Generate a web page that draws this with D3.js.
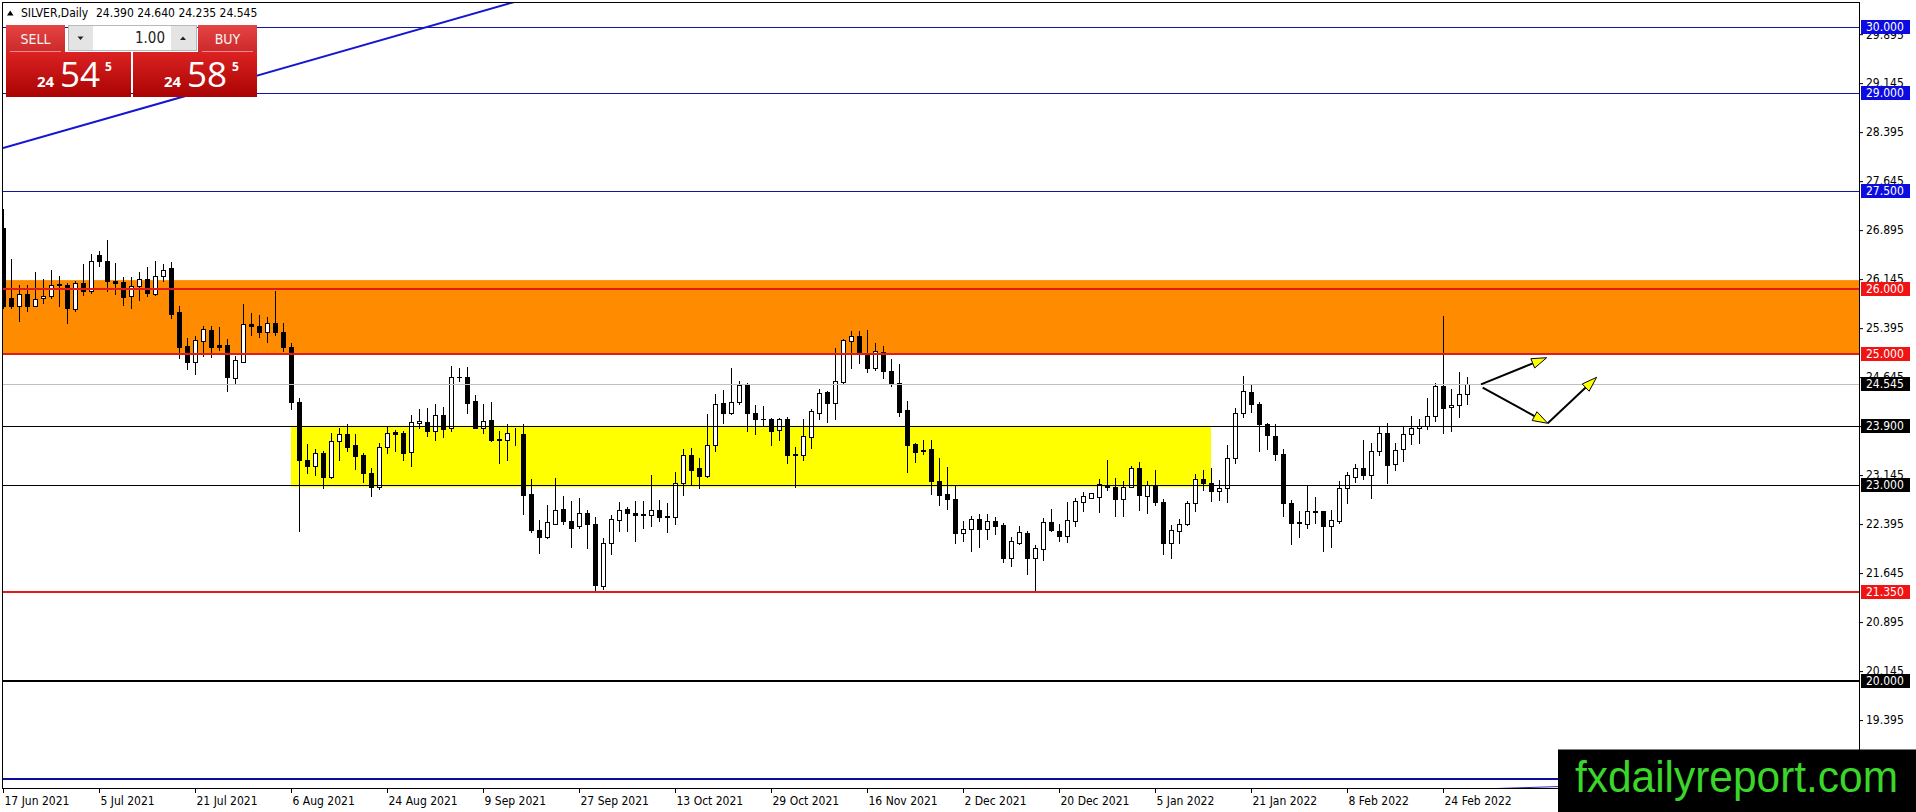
<!DOCTYPE html>
<html lang="en">
<head>
<meta charset="UTF-8">
<title>SILVER, Daily</title>
<script src="https://cdnjs.cloudflare.com/ajax/libs/d3/7.8.5/d3.min.js"></script>
<style>
  html, body { margin: 0; padding: 0; background: #fff; overflow: hidden; }
  svg { display: block; }
  .mt { font-family: "DejaVu Sans Condensed", "DejaVu Sans", sans-serif; font-stretch: condensed; }
</style>
</head>
<body>
<svg id="chart" width="1916" height="812"></svg>
<script>
// ---- values ----
const symbol = "SILVER,Daily";
const lastQuote = [24.390, 24.640, 24.235, 24.545]; // O H L C shown in the header
const bidPrice = 24.545;
const askPrice = 24.585;
const lotSize = "1.00";

// daily bars 17 Jun 2021 .. 1 Mar 2022, [open, high, low, close]
const ohlc = [
  [26.93, 27.22, 25.70, 25.73], [25.86, 26.46, 25.70, 25.74], [25.74, 26.06, 25.50, 25.91],
  [25.91, 26.06, 25.65, 25.74], [25.74, 26.26, 25.74, 25.84], [25.86, 26.14, 25.78, 25.89],
  [25.88, 26.28, 25.86, 26.06], [26.05, 26.20, 25.74, 26.07], [26.06, 26.09, 25.48, 25.71],
  [25.69, 26.11, 25.65, 26.09], [26.09, 26.37, 25.90, 25.97], [25.96, 26.53, 25.93, 26.43],
  [26.51, 26.58, 26.34, 26.43], [26.43, 26.75, 25.96, 26.11], [26.12, 26.39, 25.92, 26.08],
  [26.10, 26.18, 25.75, 25.87], [25.88, 26.18, 25.71, 26.04], [26.04, 26.26, 25.82, 26.14],
  [26.15, 26.33, 25.88, 25.94], [25.92, 26.43, 25.90, 26.20], [26.20, 26.37, 26.11, 26.29],
  [26.31, 26.41, 25.55, 25.61], [25.64, 25.73, 24.94, 25.11], [25.12, 25.24, 24.77, 24.88],
  [24.88, 25.27, 24.70, 25.21], [25.20, 25.43, 24.97, 25.38], [25.37, 25.43, 24.96, 25.11],
  [25.14, 25.41, 25.06, 25.10], [25.13, 25.23, 24.44, 24.64], [24.63, 24.97, 24.56, 24.91],
  [24.88, 25.76, 24.88, 25.46], [25.46, 25.62, 25.29, 25.43], [25.43, 25.60, 25.26, 25.34],
  [25.34, 25.57, 25.19, 25.47], [25.47, 25.97, 25.29, 25.33], [25.34, 25.48, 25.04, 25.10],
  [25.10, 25.16, 24.15, 24.27], [24.26, 24.32, 22.29, 23.38], [23.38, 23.62, 23.17, 23.28],
  [23.28, 23.55, 23.14, 23.49], [23.49, 23.51, 22.95, 23.11], [23.11, 23.79, 23.10, 23.67],
  [23.67, 23.86, 23.38, 23.78], [23.78, 23.92, 23.51, 23.57], [23.60, 23.78, 23.24, 23.44],
  [23.45, 23.49, 23.04, 23.17], [23.18, 23.25, 22.82, 22.96], [22.96, 23.64, 22.93, 23.58],
  [23.58, 23.90, 23.48, 23.79], [23.80, 23.84, 23.52, 23.78], [23.79, 23.82, 23.38, 23.48],
  [23.50, 24.07, 23.29, 23.96], [23.94, 24.16, 23.86, 23.98], [23.96, 24.17, 23.74, 23.82],
  [23.82, 24.23, 23.69, 24.07], [24.07, 24.19, 23.73, 23.85], [23.86, 24.82, 23.82, 24.65],
  [24.65, 24.78, 24.59, 24.64], [24.64, 24.80, 24.10, 24.25], [24.28, 24.37, 23.86, 23.87],
  [23.87, 24.24, 23.79, 23.97], [23.99, 24.27, 23.67, 23.68], [23.70, 23.82, 23.33, 23.69],
  [23.69, 23.92, 23.38, 23.79], [23.80, 23.87, 23.60, 23.81], [23.78, 23.92, 22.55, 22.84],
  [22.86, 23.09, 22.27, 22.31], [22.30, 22.46, 21.96, 22.19], [22.19, 22.68, 22.18, 22.42],
  [22.40, 23.10, 22.40, 22.61], [22.62, 22.83, 22.40, 22.44], [22.45, 22.75, 22.05, 22.34],
  [22.36, 22.80, 22.34, 22.56], [22.56, 22.61, 22.03, 22.39], [22.39, 22.50, 21.37, 21.46],
  [21.45, 22.18, 21.40, 22.10], [22.10, 22.54, 21.93, 22.47], [22.46, 22.73, 22.29, 22.61],
  [22.63, 22.65, 22.29, 22.56], [22.57, 22.75, 22.14, 22.54], [22.55, 22.75, 22.33, 22.53],
  [22.53, 23.14, 22.36, 22.61], [22.61, 22.76, 22.44, 22.51], [22.52, 22.72, 22.28, 22.50],
  [22.50, 23.20, 22.40, 23.02], [23.02, 23.55, 22.84, 23.46], [23.46, 23.56, 22.99, 23.22],
  [23.25, 23.41, 22.95, 23.13], [23.13, 24.08, 23.11, 23.61], [23.61, 24.38, 23.51, 24.23],
  [24.25, 24.45, 23.94, 24.10], [24.10, 24.78, 24.08, 24.26], [24.27, 24.58, 24.24, 24.52],
  [24.52, 24.55, 23.82, 24.10], [24.10, 24.22, 23.77, 24.00], [24.01, 24.20, 23.89, 24.00],
  [24.01, 24.02, 23.60, 23.82], [23.84, 24.02, 23.68, 24.00], [24.00, 24.03, 23.33, 23.46],
  [23.46, 23.58, 22.96, 23.47], [23.45, 24.00, 23.37, 23.74], [23.73, 24.15, 23.56, 24.12],
  [24.10, 24.47, 24.00, 24.40], [24.41, 24.44, 23.96, 24.25], [24.25, 25.09, 24.00, 24.59],
  [24.57, 25.23, 24.55, 25.22], [25.20, 25.35, 24.79, 25.28], [25.28, 25.35, 24.86, 25.02],
  [24.99, 25.37, 24.73, 24.78], [24.78, 25.17, 24.75, 25.04], [25.03, 25.12, 24.63, 24.74],
  [24.74, 24.93, 24.51, 24.56], [24.56, 24.85, 24.05, 24.11], [24.14, 24.28, 23.20, 23.60],
  [23.62, 23.64, 23.34, 23.50], [23.53, 23.69, 23.47, 23.52], [23.54, 23.68, 22.86, 23.05],
  [23.06, 23.40, 22.68, 22.84], [22.85, 23.27, 22.62, 22.78], [22.78, 22.99, 22.11, 22.26],
  [22.26, 22.45, 22.14, 22.32], [22.32, 22.52, 21.98, 22.48], [22.47, 22.55, 22.05, 22.32],
  [22.32, 22.55, 22.16, 22.44], [22.44, 22.51, 22.24, 22.36], [22.38, 22.41, 21.81, 21.88],
  [21.88, 22.19, 21.76, 22.13], [22.10, 22.37, 22.09, 22.27], [22.26, 22.29, 21.63, 21.87],
  [21.87, 22.08, 21.35, 22.03], [22.01, 22.49, 21.84, 22.42], [22.42, 22.63, 22.29, 22.30],
  [22.29, 22.40, 22.13, 22.21], [22.21, 22.74, 22.12, 22.46], [22.44, 22.79, 22.37, 22.75],
  [22.74, 22.89, 22.59, 22.82], [22.80, 22.87, 22.80, 22.87], [22.81, 23.08, 22.58, 23.01],
  [22.99, 23.38, 22.91, 22.96], [22.96, 23.10, 22.52, 22.78], [22.78, 23.06, 22.52, 22.97],
  [22.97, 23.29, 22.96, 23.26], [23.26, 23.35, 22.61, 22.84], [22.83, 23.06, 22.57, 22.99],
  [22.99, 23.22, 22.69, 22.73], [22.73, 22.78, 21.93, 22.11], [22.11, 22.38, 21.87, 22.30],
  [22.29, 22.47, 22.11, 22.40], [22.40, 22.75, 22.38, 22.72], [22.72, 23.16, 22.59, 23.09],
  [23.09, 23.23, 22.92, 23.02], [23.02, 23.26, 22.75, 22.90], [22.90, 23.07, 22.77, 22.95],
  [22.95, 23.60, 22.74, 23.41], [23.41, 24.17, 23.33, 24.09], [24.09, 24.66, 24.03, 24.43],
  [24.41, 24.54, 24.11, 24.24], [24.24, 24.27, 23.51, 23.93], [23.93, 23.94, 23.55, 23.76],
  [23.75, 23.93, 23.38, 23.47], [23.47, 23.55, 22.52, 22.72], [22.72, 22.77, 22.09, 22.41],
  [22.42, 22.60, 22.19, 22.41], [22.40, 23.00, 22.34, 22.59], [22.59, 22.81, 22.41, 22.58],
  [22.60, 22.60, 21.99, 22.36], [22.36, 22.61, 22.05, 22.46], [22.45, 23.06, 22.41, 22.95],
  [22.95, 23.20, 22.72, 23.14], [23.11, 23.32, 23.04, 23.26], [23.26, 23.68, 23.08, 23.15],
  [23.14, 23.64, 22.80, 23.51], [23.51, 23.88, 23.46, 23.79], [23.79, 23.95, 23.02, 23.30],
  [23.32, 23.63, 23.22, 23.53], [23.55, 23.88, 23.36, 23.78], [23.78, 24.05, 23.62, 23.87],
  [23.86, 24.01, 23.64, 23.89], [23.89, 24.33, 23.85, 24.05], [24.05, 24.56, 23.97, 24.51],
  [24.51, 25.58, 23.79, 24.17], [24.18, 24.46, 23.82, 24.22], [24.22, 24.73, 24.04, 24.39],
  [24.39, 24.64, 24.235, 24.545]
];

const dateLabels = [
  "17 Jun 2021", "5 Jul 2021", "21 Jul 2021", "6 Aug 2021", "24 Aug 2021", "9 Sep 2021",
  "27 Sep 2021", "13 Oct 2021", "29 Oct 2021", "16 Nov 2021", "2 Dec 2021", "20 Dec 2021",
  "5 Jan 2022", "21 Jan 2022", "8 Feb 2022", "24 Feb 2022"
];
const dateStep = 12; // bars between date labels

// price scale ticks that show (the lowest one sits under the watermark)
const priceTicks = [29.895, 29.145, 28.395, 27.645, 26.895, 26.145, 25.395, 24.645,
  23.895, 23.145, 22.395, 21.645, 20.895, 20.145, 19.395];

// horizontal lines drawn on the chart; the 18.5 one has its label hidden
const levelPrices = [30, 29, 27.5, 26, 25, bidPrice, 23.9, 23, 21.35, 20, 18.5];
const labelledLevels = [30, 29, 27.5, 26, 25, bidPrice, 23.9, 23, 21.35, 20];

const supplyZone = [25.0, 26.13];        // orange box, full width
const demandZone = [22.965, 23.90];      // yellow box
const demandZoneBars = [36, 151];

// [bar, price] end points
const trendLines = [
  [[0, 28.15], [64, 30.39]],
  [[186.6, 18.347], [194.4, 18.377]]
];
const arrows = [
  [[184.75, 24.535], [192.96, 24.942]],
  [[184.96, 24.483], [193.09, 23.938]],
  [[193.09, 23.938], [199.2, 24.642]]
];

// ---- layout ----
const W = 1916, H = 812;
const plot = { left: 3, top: 3, right: 1859, bottom: 788 };
const barSpacing = 8;

const x = d3.scaleLinear()
  .domain([0, (plot.right - plot.left) / barSpacing])
  .range([plot.left, plot.right]);
const y = d3.scaleLinear().domain([18.34, 30.372]).range([789, 3]);

const svg = d3.select("#chart").attr("viewBox", [0, 0, W, H]);
svg.append("rect").attr("width", W).attr("height", H).attr("fill", "#fff");

const defs = svg.append("defs");
defs.append("clipPath").attr("id", "plotClip")
  .append("rect")
  .attr("x", plot.left).attr("y", plot.top)
  .attr("width", plot.right - plot.left).attr("height", plot.bottom - plot.top);

function gradient(id, top, bottom) {
  const g = defs.append("linearGradient").attr("id", id)
    .attr("x1", 0).attr("y1", 0).attr("x2", 0).attr("y2", 1);
  g.append("stop").attr("offset", "0%").attr("stop-color", top);
  g.append("stop").attr("offset", "100%").attr("stop-color", bottom);
}
gradient("btnGrad", "#e54444", "#cc2a2a");
gradient("boxGrad", "#dc2222", "#a90303");

const chart = svg.append("g").attr("clip-path", "url(#plotClip)");

// zones
chart.append("rect")
  .attr("x", plot.left).attr("width", plot.right - plot.left)
  .attr("y", y(supplyZone[1])).attr("height", y(supplyZone[0]) - y(supplyZone[1]))
  .attr("fill", "#ff8c00");
chart.append("rect")
  .attr("x", x(demandZoneBars[0])).attr("width", x(demandZoneBars[1]) - x(demandZoneBars[0]))
  .attr("y", y(demandZone[1])).attr("height", y(demandZone[0]) - y(demandZone[1]))
  .attr("fill", "#ffff00");

// candles
const candles = ohlc.map((d, i) => ({ i, o: d[0], h: d[1], l: d[2], c: d[3] }));
const cg = chart.append("g").attr("shape-rendering", "crispEdges");

cg.selectAll("line.wick").data(candles).join("line")
  .attr("class", "wick")
  .attr("x1", d => x(d.i) + 0.5).attr("x2", d => x(d.i) + 0.5)
  .attr("y1", d => Math.round(y(d.h))).attr("y2", d => Math.round(y(d.l)) + 1)
  .attr("stroke", "#000").attr("stroke-width", 1);

cg.selectAll("rect.bear").data(candles.filter(d => d.c < d.o)).join("rect")
  .attr("class", "bear")
  .attr("x", d => x(d.i) - 2).attr("width", 5)
  .attr("y", d => Math.round(y(d.o)))
  .attr("height", d => Math.max(1, Math.round(y(d.c)) - Math.round(y(d.o)) + 1))
  .attr("fill", "#000");

cg.selectAll("rect.bull").data(candles.filter(d => d.c >= d.o)).join("rect")
  .attr("class", "bull")
  .attr("x", d => x(d.i) - 1.5).attr("width", 4)
  .attr("y", d => Math.round(y(d.c)) + 0.5)
  .attr("height", d => Math.max(0, Math.round(y(d.o)) - Math.round(y(d.c))))
  .attr("fill", "#fff").attr("stroke", "#000").attr("stroke-width", 1);

// horizontal levels
function levelStyle(p) {
  if (p === bidPrice) return { stroke: "#c0c0c0", width: 1, box: "#000" };
  if (p === 26 || p === 25 || p === 21.35) return { stroke: "#e01b1b", width: 2, box: "#f01414" };
  if (p === 18.5) return { stroke: "#0c0c96", width: 2, box: "#0c0ce0" };
  if (p >= 27.5) return { stroke: "#14149e", width: 1, box: "#0c0ce0" };
  if (p === 20) return { stroke: "#000", width: 2, box: "#000" };
  return { stroke: "#000", width: 1, box: "#000" };
}
const lineY = p => {
  const s = levelStyle(p);
  return s.width % 2 ? Math.round(y(p)) + 0.5 : Math.round(y(p));
};

chart.append("g").attr("shape-rendering", "crispEdges")
  .selectAll("line").data(levelPrices).join("line")
  .attr("x1", plot.left).attr("x2", plot.right)
  .attr("y1", lineY).attr("y2", lineY)
  .attr("stroke", d => levelStyle(d).stroke)
  .attr("stroke-width", d => levelStyle(d).width);

// trend lines
const pt = d => [x(d[0]), y(d[1])];
chart.append("g").selectAll("path").data(trendLines).join("path")
  .attr("d", d => d3.line()(d.map(pt)))
  .attr("stroke", (d, i) => i === 0 ? "#1616d2" : "#2a2ac0")
  .attr("stroke-width", (d, i) => i === 0 ? 2 : 1)
  .attr("fill", "none");

// arrows
const ag = chart.append("g");
arrows.forEach(a => {
  const [x0, y0] = pt(a[0]);
  const [x1, y1] = pt(a[1]);
  const len = Math.hypot(x1 - x0, y1 - y0);
  const ux = (x1 - x0) / len, uy = (y1 - y0) / len;
  const L = 15, w = 5;
  const bx = x1 - ux * L, by = y1 - uy * L;
  ag.append("line")
    .attr("x1", x0).attr("y1", y0).attr("x2", bx).attr("y2", by)
    .attr("stroke", "#000").attr("stroke-width", 2);
  ag.append("path")
    .attr("d", d3.line()([[x1, y1], [bx - uy * w, by + ux * w], [bx + uy * w, by - ux * w]]) + "Z")
    .attr("fill", "#ffff00").attr("stroke", "#000").attr("stroke-width", 1)
    .attr("stroke-linejoin", "miter");
});

// frame
svg.append("path")
  .attr("d", `M${plot.left - 0.5},${plot.bottom + 0.5}V${plot.top - 0.5}H${plot.right + 0.5}V${plot.bottom + 0.5}H${plot.left - 0.5}`)
  .attr("fill", "none").attr("stroke", "#000").attr("stroke-width", 1)
  .attr("shape-rendering", "crispEdges");

// price axis
const yAxis = d3.axisRight(y).tickValues(priceTicks)
  .tickFormat(d3.format(".3f")).tickSize(4).tickPadding(3);
const ya = svg.append("g").attr("class", "mt")
  .attr("transform", `translate(${plot.right},0)`).call(yAxis);
ya.select(".domain").remove();
ya.selectAll("text").attr("font-size", 12).attr("fill", "#000").attr("font-family", null);
ya.selectAll("line").attr("stroke", "#000");

// level price boxes
const boxes = svg.append("g").attr("class", "mt");
boxes.selectAll("rect").data(labelledLevels).join("rect")
  .attr("x", plot.right + 2).attr("width", 49)
  .attr("y", d => Math.round(y(d)) - 7).attr("height", 14)
  .attr("fill", d => levelStyle(d).box);
boxes.selectAll("text").data(labelledLevels).join("text")
  .attr("x", plot.right + 7).attr("y", d => Math.round(y(d)))
  .attr("dy", "0.36em").attr("font-size", 12).attr("fill", "#fff")
  .text(d => d3.format(".3f")(d));

// date axis
const xAxis = d3.axisBottom(x)
  .tickValues(dateLabels.map((d, i) => i * dateStep))
  .tickFormat((d, i) => dateLabels[i]).tickSize(5).tickPadding(3);
const xa = svg.append("g").attr("class", "mt")
  .attr("transform", `translate(0,${plot.bottom})`).call(xAxis);
xa.select(".domain").remove();
xa.selectAll("text").attr("font-size", 12).attr("fill", "#000")
  .attr("font-family", null).attr("text-anchor", "start").attr("x", 1);
xa.selectAll("line").attr("stroke", "#000");

// header
const head = svg.append("g").attr("class", "mt").attr("font-size", 12).attr("fill", "#000");
head.append("path").attr("d", "M7,15.5L13.5,15.5L10.25,10.5Z").attr("fill", "#000");
head.append("text").attr("x", 21).attr("y", 17).text(symbol);
head.append("text").attr("x", 96).attr("y", 17)
  .text(lastQuote.map(d3.format(".3f")).join(" "));

// one-click trading panel
const panel = svg.append("g");
const btnFont = "'DejaVu Sans Condensed', 'DejaVu Sans', sans-serif";
[[6, "SELL"], [198, "BUY"]].forEach(([bx, label]) => {
  panel.append("rect").attr("x", bx).attr("y", 25).attr("width", 59).attr("height", 27)
    .attr("fill", "url(#btnGrad)");
  panel.append("line").attr("x1", bx + 4).attr("x2", bx + 55).attr("y1", 51.5).attr("y2", 51.5)
    .attr("stroke", "#ef8a8a").attr("stroke-width", 1);
  panel.append("text").attr("x", bx + 29.5).attr("y", 44).attr("text-anchor", "middle")
    .attr("font-family", btnFont).attr("font-stretch", "condensed")
    .attr("font-size", 14).attr("fill", "#f4f4f4").text(label);
});
panel.append("rect").attr("x", 68.5).attr("y", 25.5).attr("width", 128).attr("height", 25)
  .attr("fill", "#fff").attr("stroke", "#b8b8b8");
panel.append("rect").attr("x", 69).attr("y", 26).attr("width", 24).attr("height", 24).attr("fill", "#e4e4e4");
panel.append("rect").attr("x", 171).attr("y", 26).attr("width", 25).attr("height", 24).attr("fill", "#e4e4e4");
panel.append("path").attr("d", "M77.5,36.5L83.5,36.5L80.5,40Z").attr("fill", "#222");
panel.append("path").attr("d", "M180,40L186,40L183,36.5Z").attr("fill", "#222");
panel.append("text").attr("x", 165).attr("y", 43).attr("text-anchor", "end")
  .attr("font-family", btnFont).attr("font-stretch", "condensed")
  .attr("font-size", 15).attr("fill", "#222").text(lotSize);

function priceBox(bx, w, price) {
  const s = price.toFixed(3);
  panel.append("rect").attr("x", bx).attr("y", 52).attr("width", w).attr("height", 45)
    .attr("fill", "url(#boxGrad)");
  const t = panel.append("text").attr("y", 87).attr("fill", "#fff")
    .attr("font-family", "'Open Sans', 'Liberation Sans', sans-serif");
  t.append("tspan").attr("x", bx + 31).attr("font-size", 15).attr("font-weight", "bold").text(s.slice(0, 2));
  t.append("tspan").attr("x", bx + 54).attr("font-size", 35).text(s.slice(3, 5));
  t.append("tspan").attr("x", bx + 99).attr("dy", -16).attr("font-size", 12)
    .attr("font-weight", "bold").text(s.slice(5));
}
priceBox(6, 125, bidPrice);
priceBox(133, 124, askPrice);

// watermark
svg.append("rect").attr("x", 1558).attr("y", 749.5).attr("width", W - 1558).attr("height", H - 749.5)
  .attr("fill", "#000");
svg.append("text").attr("x", 1575).attr("y", 792)
  .attr("font-family", "'Liberation Sans', Arial, sans-serif").attr("font-size", 45)
  .attr("textLength", 323).attr("lengthAdjust", "spacingAndGlyphs")
  .attr("fill", "#3ad62a").text("fxdailyreport.com");
</script>
</body>
</html>
